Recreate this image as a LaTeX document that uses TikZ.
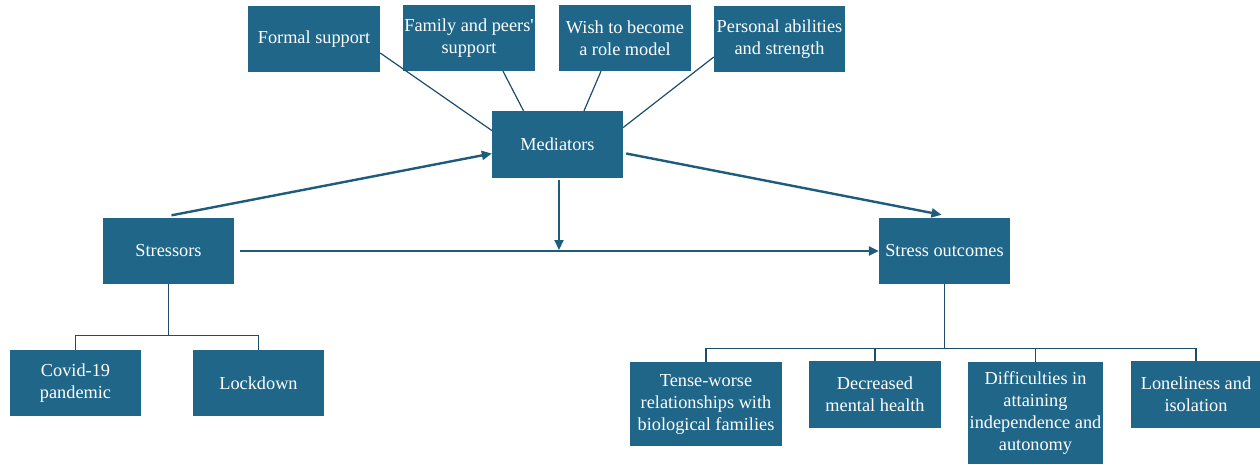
\documentclass[tikz,border=0pt]{standalone}
\usepackage{fontspec}
\setmainfont{Liberation Serif}
\usetikzlibrary{arrows.meta,calc}
\definecolor{boxfill}{RGB}{31,102,137}
\definecolor{linecol}{RGB}{30,92,124}
\definecolor{thincol}{RGB}{28,78,106}
\begin{document}
\begin{tikzpicture}[x=1pt,y=-1pt,
  box/.style={draw=none,fill=boxfill,text=white,inner sep=0pt,align=center,
    font=\fontsize{18.3}{22}\selectfont},
  thin/.style={draw=thincol,line width=1.2pt},
  main/.style={draw=linecol,line width=2.4pt,-{Triangle[length=10pt,width=9pt]}},
  trunk/.style={draw=thincol,line width=1.8pt},
  bus/.style={draw=thincol,line width=1.2pt}]
\useasboundingbox (0,0) rectangle (1260,464);
% nodes
\node[box,minimum width=132pt,minimum height=66pt] (formal) at (314,39) {Formal support};
\node[box,minimum width=132pt,minimum height=66pt] (family) at (469,38) {Family and peers{\addfontfeatures{Ligatures=TeXOff}'}\\support};
\node[box,minimum width=132pt,minimum height=66pt] (wish) at (625,38) {Wish to become\\a role model};
\node[box,minimum width=131pt,minimum height=66pt] (personal) at (779.5,39) {Personal abilities\\and strength};
\node[box,minimum width=131pt,minimum height=67pt] (mediators) at (557.5,144.5) {Mediators};
\node[box,minimum width=131pt,minimum height=66pt] (stressors) at (168.5,251) {Stressors};
\node[box,minimum width=131pt,minimum height=66pt] (outcomes) at (944.5,251) {Stress outcomes};
\node[box,minimum width=131pt,minimum height=66pt] (covid) at (75.5,383) {Covid-19\\pandemic};
\node[box,minimum width=131pt,minimum height=66pt] (lockdown) at (258.5,383) {Lockdown};
\node[box,minimum width=152pt,minimum height=84pt] (tense) at (706,404) {Tense-worse\\relationships with\\biological families};
\node[box,minimum width=132pt,minimum height=67pt] (decreased) at (875,394.5) {Decreased\\mental health};
\node[box,minimum width=135pt,minimum height=102pt] (difficulties) at (1035.5,413) {Difficulties in\\attaining\\independence and\\autonomy};
\node[box,minimum width=130pt,minimum height=67pt] (lonely) at (1196,394.5) {Loneliness and\\isolation};
% mediator inputs
\draw[thin] ([yshift=-14pt]formal.east) -- ([yshift=14pt]mediators.west);
\draw[thin] ([xshift=34pt]family.south) -- ([xshift=-34pt]mediators.north);
\draw[thin] ([xshift=-24pt]wish.south) -- ([xshift=26.5pt]mediators.north);
\draw[thin] ([yshift=-18pt]personal.west) -- ([yshift=17pt]mediators.east);
% main arrows
\draw[main] ([xshift=3pt,yshift=2.5pt]stressors.north) -- ([yshift=-9pt]mediators.west);
\draw[main] ([xshift=3pt,yshift=-9pt]mediators.east) -- ([xshift=-3pt,yshift=3pt]outcomes.north);
\draw[main] ([xshift=6pt]stressors.east) -- (outcomes.west);
\coordinate (join) at (559,250);
\draw[draw=linecol,line width=2pt,-{Triangle[length=10pt,width=9pt]}] ([xshift=1.5pt,yshift=-2pt]mediators.south) -- (join);
% stressor tree
\draw[trunk] (stressors.south) -- ++(0,52);
\draw[bus] (covid.north) -- ++(0,-14) -| (lockdown.north);
% outcome tree
\coordinate (busline) at (0,348.7);
\draw[trunk] (outcomes.south) -- (outcomes.south |- busline);
\draw[bus] (tense.north) -- (tense.north |- busline) -| (lonely.north);
\draw[bus] (decreased.north) -- (decreased.north |- busline);
\draw[bus] (difficulties.north) -- (difficulties.north |- busline);
\end{tikzpicture}
\end{document}
